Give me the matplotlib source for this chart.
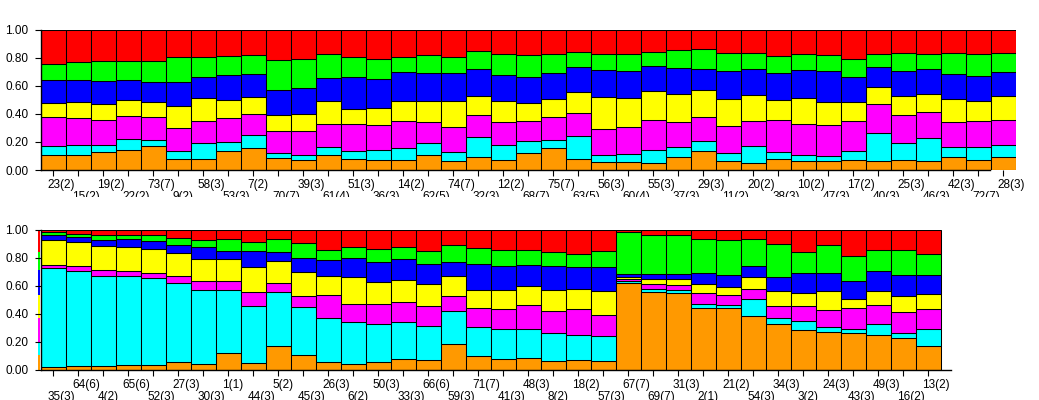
import matplotlib
matplotlib.use('Agg')
import matplotlib.pyplot as plt
import matplotlib.transforms as mtransforms
from matplotlib.patches import Rectangle
import numpy as np

plt.rcParams['font.family'] = ['Liberation Sans', 'DejaVu Sans']

# cluster colours, bottom to top
cluster_colors = ['#ff9900', '#00ffff', '#ff00ff', '#ffff00', '#0000ff', '#00ff00', '#ff0000']

top_labels = ['23(2)', '15(2)', '19(2)', '22(2)', '73(7)', '9(2)', '58(3)', '53(3)', '7(2)', '70(7)',
              '39(3)', '61(4)', '51(3)', '36(3)', '14(2)', '62(5)', '74(7)', '32(3)', '12(2)', '68(7)',
              '75(7)', '63(5)', '56(3)', '60(4)', '55(3)', '37(3)', '29(3)', '11(2)', '20(2)', '38(3)',
              '10(2)', '47(3)', '17(2)', '40(3)', '25(3)', '46(3)', '42(3)', '72(7)', '28(3)']

# cumulative upper edge of clusters 1..6 (cluster 7 fills up to 1.0)
top_cum = [
    (0.105, 0.174, 0.376, 0.476, 0.640, 0.755),
    (0.110, 0.180, 0.369, 0.488, 0.640, 0.774),
    (0.126, 0.176, 0.357, 0.474, 0.636, 0.779),
    (0.140, 0.219, 0.383, 0.498, 0.640, 0.779),
    (0.169, 0.212, 0.376, 0.483, 0.626, 0.779),
    (0.081, 0.133, 0.298, 0.460, 0.626, 0.810),
    (0.081, 0.190, 0.348, 0.517, 0.667, 0.810),
    (0.133, 0.202, 0.369, 0.502, 0.676, 0.817),
    (0.155, 0.248, 0.398, 0.524, 0.683, 0.824),
    (0.083, 0.119, 0.276, 0.395, 0.569, 0.788),
    (0.069, 0.110, 0.276, 0.402, 0.583, 0.795),
    (0.105, 0.162, 0.326, 0.490, 0.655, 0.831),
    (0.082, 0.138, 0.326, 0.438, 0.662, 0.804),
    (0.074, 0.140, 0.319, 0.445, 0.652, 0.795),
    (0.074, 0.160, 0.348, 0.495, 0.698, 0.810),
    (0.110, 0.195, 0.340, 0.495, 0.690, 0.824),
    (0.067, 0.131, 0.310, 0.495, 0.690, 0.810),
    (0.090, 0.238, 0.390, 0.531, 0.719, 0.852),
    (0.074, 0.181, 0.340, 0.495, 0.676, 0.831),
    (0.124, 0.210, 0.348, 0.481, 0.662, 0.824),
    (0.155, 0.212, 0.376, 0.510, 0.690, 0.831),
    (0.081, 0.245, 0.405, 0.560, 0.733, 0.845),
    (0.060, 0.110, 0.290, 0.524, 0.712, 0.831),
    (0.060, 0.117, 0.305, 0.517, 0.705, 0.831),
    (0.052, 0.145, 0.355, 0.567, 0.740, 0.845),
    (0.090, 0.167, 0.340, 0.545, 0.726, 0.860),
    (0.138, 0.205, 0.376, 0.574, 0.719, 0.867),
    (0.062, 0.124, 0.312, 0.510, 0.707, 0.833),
    (0.052, 0.174, 0.348, 0.538, 0.719, 0.833),
    (0.081, 0.131, 0.355, 0.502, 0.693, 0.812),
    (0.062, 0.110, 0.326, 0.517, 0.712, 0.826),
    (0.062, 0.102, 0.319, 0.488, 0.705, 0.824),
    (0.074, 0.138, 0.348, 0.488, 0.662, 0.790),
    (0.067, 0.267, 0.469, 0.595, 0.733, 0.826),
    (0.074, 0.195, 0.390, 0.531, 0.707, 0.833),
    (0.067, 0.226, 0.412, 0.545, 0.719, 0.826),
    (0.095, 0.162, 0.340, 0.510, 0.686, 0.833),
    (0.074, 0.167, 0.348, 0.495, 0.669, 0.826),
    (0.095, 0.181, 0.360, 0.531, 0.698, 0.833),
]

bottom_labels = ['35(3)', '64(6)', '4(2)', '65(6)', '52(3)', '27(3)', '30(3)', '1(1)', '44(3)', '5(2)',
                 '45(3)', '26(3)', '6(2)', '50(3)', '33(3)', '66(6)', '59(3)', '71(7)', '41(3)', '48(3)',
                 '8(2)', '18(2)', '57(3)', '67(7)', '69(7)', '31(3)', '2(1)', '21(2)', '54(3)', '34(3)',
                 '3(2)', '24(3)', '43(3)', '49(3)', '16(2)', '13(2)']

bottom_cum = [
    (0.021, 0.726, 0.750, 0.931, 0.964, 0.983),
    (0.029, 0.710, 0.740, 0.917, 0.950, 0.969),
    (0.029, 0.669, 0.712, 0.888, 0.929, 0.962),
    (0.036, 0.669, 0.710, 0.881, 0.936, 0.962),
    (0.036, 0.655, 0.690, 0.867, 0.924, 0.962),
    (0.055, 0.619, 0.669, 0.838, 0.895, 0.945),
    (0.040, 0.569, 0.633, 0.795, 0.881, 0.931),
    (0.119, 0.569, 0.633, 0.795, 0.852, 0.938),
    (0.048, 0.460, 0.560, 0.738, 0.852, 0.917),
    (0.169, 0.555, 0.624, 0.781, 0.845, 0.938),
    (0.105, 0.452, 0.531, 0.702, 0.802, 0.910),
    (0.055, 0.374, 0.538, 0.674, 0.788, 0.860),
    (0.045, 0.345, 0.469, 0.667, 0.802, 0.881),
    (0.055, 0.331, 0.469, 0.631, 0.769, 0.867),
    (0.076, 0.345, 0.483, 0.645, 0.790, 0.881),
    (0.069, 0.317, 0.455, 0.617, 0.755, 0.852),
    (0.183, 0.424, 0.531, 0.674, 0.769, 0.895),
    (0.098, 0.310, 0.440, 0.574, 0.755, 0.874),
    (0.076, 0.290, 0.433, 0.574, 0.740, 0.860),
    (0.083, 0.295, 0.462, 0.602, 0.748, 0.860),
    (0.062, 0.262, 0.419, 0.574, 0.740, 0.845),
    (0.069, 0.252, 0.433, 0.581, 0.733, 0.831),
    (0.062, 0.245, 0.395, 0.567, 0.733, 0.852),
    (0.624, 0.633, 0.648, 0.667, 0.688, 0.983),
    (0.560, 0.579, 0.617, 0.650, 0.688, 0.962),
    (0.552, 0.574, 0.610, 0.652, 0.688, 0.962),
    (0.445, 0.474, 0.552, 0.617, 0.690, 0.933),
    (0.445, 0.467, 0.538, 0.595, 0.676, 0.926),
    (0.388, 0.510, 0.581, 0.667, 0.740, 0.938),
    (0.326, 0.369, 0.460, 0.567, 0.662, 0.902),
    (0.283, 0.348, 0.460, 0.552, 0.690, 0.845),
    (0.274, 0.310, 0.426, 0.567, 0.690, 0.895),
    (0.267, 0.295, 0.440, 0.510, 0.633, 0.817),
    (0.252, 0.331, 0.462, 0.567, 0.705, 0.860),
    (0.231, 0.267, 0.412, 0.531, 0.676, 0.860),
    (0.174, 0.295, 0.433, 0.545, 0.676, 0.831),
]

# thin sliver of a cut-off bar left of the lower panel's axis
edge_cum = (0.107, 0.190, 0.369, 0.536, 0.714, 0.845)

W, H = 1039, 400
fig = plt.figure(figsize=(W / 100, H / 100), dpi=100)
fig.patch.set_facecolor('white')


def bounds(cum):
    cum = np.atleast_2d(np.array(cum))
    n = cum.shape[0]
    return np.column_stack([np.zeros(n), cum, np.ones(n)])


def draw_panel(ax, labels, cum, upper_first):
    full = bounds(cum)
    heights = np.diff(full, axis=1)
    x = np.arange(len(labels))
    for k, c in enumerate(cluster_colors):
        ax.bar(x, heights[:, k], bottom=full[:, k], width=1.0, color=c,
               edgecolor='black', linewidth=0.75)
    ax.set_ylim(0, 1)
    ax.set_yticks(np.arange(0, 1.01, 0.2))
    ax.set_yticklabels(['%.2f' % v for v in np.arange(0, 1.01, 0.2)])
    for s in ['top', 'right']:
        ax.spines[s].set_visible(False)
    for s in ['left', 'bottom']:
        ax.spines[s].set_linewidth(1.0)
        ax.spines[s].set_color('black')
    ax.tick_params(axis='y', length=4.3, width=0.8, pad=4.7, labelsize=8.5, colors='black')

    up = x[0::2] if upper_first else x[1::2]
    low = x[1::2] if upper_first else x[0::2]
    ax.set_xticks(up)
    ax.set_xticklabels([labels[i] for i in up])
    ax.set_xticks(low, minor=True)
    ax.set_xticklabels([labels[i] for i in low], minor=True)
    ax.tick_params(axis='x', which='both', length=4.3, width=0.8, labelsize=8.5, colors='black')
    ax.tick_params(axis='x', which='major', pad=2.0)
    ax.tick_params(axis='x', which='minor', pad=10.6)
    shift = mtransforms.ScaledTranslation(-5.7 / 100, 0, fig.dpi_scale_trans)
    for lab in ax.get_xticklabels() + ax.get_xticklabels(minor=True):
        lab.set_horizontalalignment('left')
        lab.set_transform(lab.get_transform() + shift)


# upper panel
ax_t = fig.add_axes([40.7 / W, 230 / H, 975 / W, 140 / H])
ax_t.set_zorder(0)
draw_panel(ax_t, top_labels, top_cum, True)
ax_t.set_xlim(-0.5, len(top_labels) - 0.5)
ax_t.spines['bottom'].set_bounds(-0.5, 37.47)

# white block that clips the lower label row of the upper panel
fig.add_artist(Rectangle((0, 0), 1, (H - 197) / H, transform=fig.transFigure,
                         facecolor='white', edgecolor='none', zorder=1))

# lower panel
ax_b = fig.add_axes([40.7 / W, 30 / H, 910 / W, 140 / H])
ax_b.set_zorder(2)
draw_panel(ax_b, bottom_labels, bottom_cum, False)
ax_b.set_xlim(-0.5, 35.9)

edge = bounds(edge_cum)[0]
for k, c in enumerate(cluster_colors):
    ax_b.bar(-0.56, edge[k + 1] - edge[k], bottom=edge[k], width=0.06, color=c,
             linewidth=0, clip_on=False)

fig.savefig('out.png', dpi=100, facecolor='white')
